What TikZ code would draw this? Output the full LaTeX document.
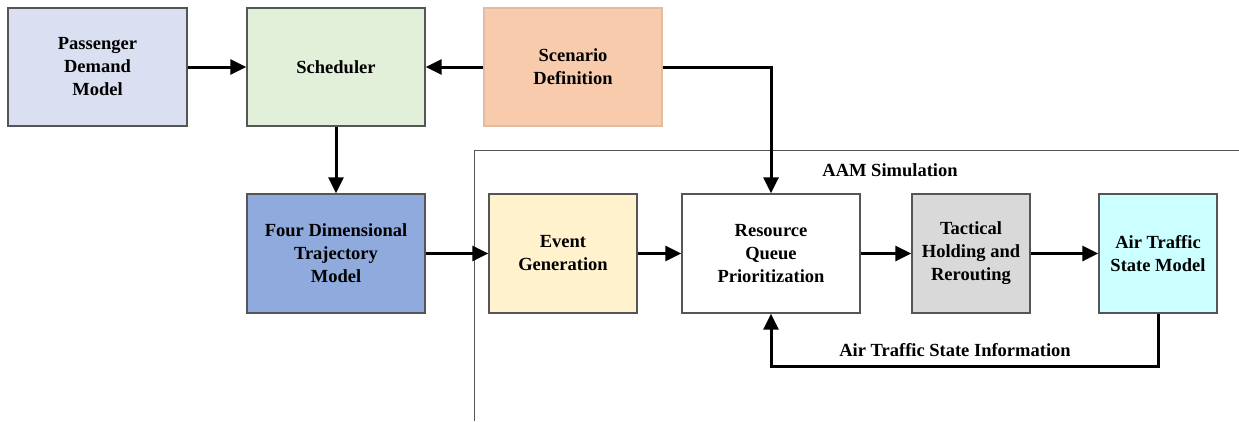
\documentclass[tikz,border=0pt]{standalone}
\usepackage{fontspec}
\setmainfont{Liberation Serif}
\usetikzlibrary{arrows.meta}
\definecolor{cPass}{HTML}{DAE0F2}
\definecolor{cSched}{HTML}{E2EFD9}
\definecolor{cScen}{HTML}{F8CBAD}
\definecolor{cFour}{HTML}{8FAADC}
\definecolor{cEvent}{HTML}{FFF2CC}
\definecolor{cTact}{HTML}{D9D9D9}
\definecolor{cAtsm}{HTML}{CCFFFF}
\definecolor{cBorder}{HTML}{555555}
\tikzset{
  blk/.style={draw=cBorder, line width=1.3pt, rectangle, align=center,
    minimum height=118pt, inner sep=2pt,
    font=\fontsize{18.5}{23}\selectfont\bfseries},
  conn/.style={line width=3pt, -{Triangle[length=16pt,width=15pt]}},
  lbl/.style={font=\fontsize{18.5}{23}\selectfont\bfseries, inner sep=0pt},
}
\begin{document}
\begin{tikzpicture}[x=1pt,y=-1pt]
\useasboundingbox (0,0) rectangle (1239,421);
% frame
\draw[draw=cBorder, line width=1pt] (474,421) -- (474,150) -- (1240,150);
\node[lbl] (aamlbl) at (890,170) {AAM Simulation};
% top row
\node[blk, fill=cPass, minimum width=179pt] (pass) at (97.5,67) {Passenger\\Demand\\Model};
\node[blk, fill=cSched, minimum width=178pt] (sched) at (336,67) {Scheduler};
\node[blk, fill=cScen, draw=cScen!80!gray, minimum width=178pt] (scen) at (573,67) {Scenario\\Definition};
% bottom row
\node[blk, fill=cFour, minimum width=178pt, minimum height=119pt] (four) at (336,253.5) {Four Dimensional\\Trajectory\\Model};
\node[blk, fill=cEvent, minimum width=148pt, minimum height=119pt] (event) at (563,253.5) {Event\\Generation};
\node[blk, fill=white, minimum width=178pt, minimum height=119pt] (res) at (771,253.5) {Resource\\Queue\\Prioritization};
\node[blk, fill=cTact, minimum width=118pt, minimum height=119pt] (tact) at (971,253.5) {Tactical\\Holding and\\Rerouting};
\node[blk, fill=cAtsm, minimum width=118pt, minimum height=119pt] (atsm) at (1158,253.5) {Air Traffic\\State Model};
% connectors
\draw[conn] (pass) -- (sched);
\draw[conn] (scen) -- (sched);
\draw[conn] (sched) -- (four);
\draw[conn] (scen.east) -| (res.north);
\draw[conn] (four) -- (event);
\draw[conn] (event) -- (res);
\draw[conn] (res) -- (tact);
\draw[conn] (tact) -- (atsm);
\coordinate (fb) at (1158,366);
\draw[conn] (atsm.south) -- (fb) -| (res.south);
\node[lbl] (fblbl) at (955,350) {Air Traffic State Information};
\end{tikzpicture}
\end{document}
